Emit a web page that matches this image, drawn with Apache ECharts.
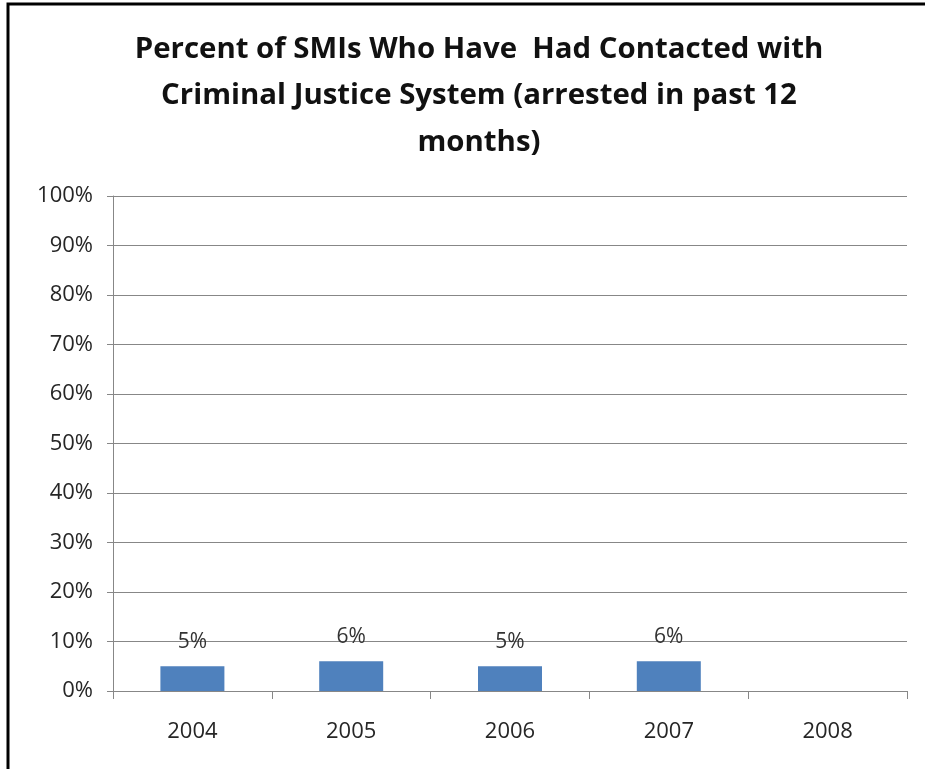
<!DOCTYPE html>
<html>
<head>
<meta charset="utf-8">
<script src="https://cdn.jsdelivr.net/npm/echarts@6/dist/echarts.min.js"></script>
<style>
html,body{margin:0;padding:0;background:#fff;}
#chart{width:925px;height:769px;}
</style>
</head>
<body>
<div id="chart"></div>
<script>
const titleText = "Percent of SMIs Who Have  Had Contacted with\nCriminal Justice System (arrested in past 12\nmonths)";
const categories = ["2004", "2005", "2006", "2007", "2008"];
const values = [5, 6, 5, 6, null];
const yTicks = { min: 0, max: 100, interval: 10 };

const chart = echarts.init(document.getElementById('chart'), null, {renderer: 'canvas'});
const font = '"Open Sans", "Noto Sans", sans-serif';
chart.setOption({
  animation: false,
  backgroundColor: '#ffffff',
  graphic: [{
    type: 'rect',
    shape: { x: 8, y: 4, width: 940, height: 800 },
    style: { fill: 'none', stroke: '#000', lineWidth: 3 },
    silent: true
  }, {
    type: 'text',
    x: 479,
    y: 26,
    silent: true,
    style: {
      text: titleText,
      align: 'center',
      verticalAlign: 'top',
      fontFamily: font,
      fontWeight: 'bold',
      fontSize: 29.4,
      lineHeight: 46.5,
      fill: '#111'
    }
  }],
  grid: { left: 113, top: 196, width: 794, height: 495, containLabel: false },
  xAxis: {
    type: 'category',
    data: categories,
    axisLine: { lineStyle: { color: '#878787', width: 1 } },
    axisTick: { show: true, length: 8, alignWithLabel: false, lineStyle: { color: '#878787' } },
    axisLabel: { margin: 30, fontSize: 22, fontFamily: font, color: '#262626' }
  },
  yAxis: {
    type: 'value',
    min: yTicks.min, max: yTicks.max, interval: yTicks.interval,
    axisLine: { show: true, lineStyle: { color: '#878787', width: 1 } },
    axisTick: { show: true, length: 6, inside: false, lineStyle: { color: '#878787' } },
    splitLine: { show: true, lineStyle: { color: '#878787', width: 1 } },
    axisLabel: { margin: 20, fontSize: 22, fontFamily: font, color: '#262626', formatter: '{value}%' }
  },
  series: [{
    type: 'bar',
    data: values,
    barWidth: 64,
    itemStyle: { color: '#4F81BD' },
    label: {
      show: true,
      position: 'top',
      distance: 14,
      fontSize: 21,
      fontFamily: font,
      color: '#333',
      formatter: p => p.value + '%'
    }
  }]
});
</script>
</body>
</html>
